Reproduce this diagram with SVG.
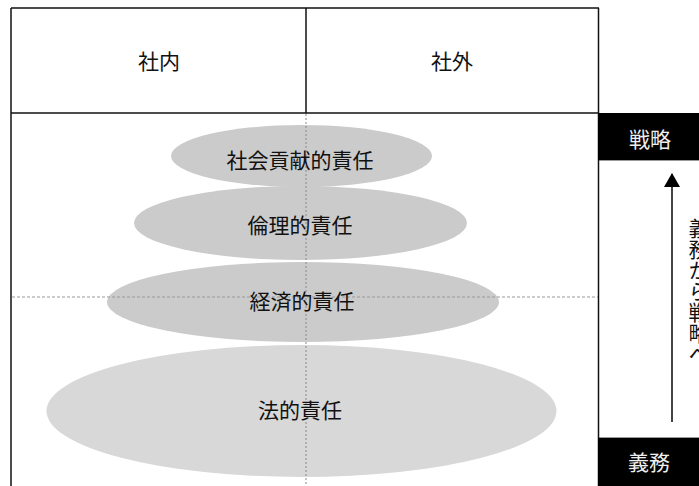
<svg xmlns="http://www.w3.org/2000/svg" width="699" height="486" viewBox="0 0 699 486">
<style>
.t{font-family:"Liberation Serif","Noto Sans CJK JP",serif;font-size:21px;fill:#111;text-anchor:middle;dominant-baseline:central}
.w{fill:#eeeeee}
.frame{stroke:#111;stroke-width:1.5;fill:none}
.dash{stroke:#888;stroke-width:1;stroke-dasharray:2,2;fill:none}
.e1{fill:#cbcbcb}
.e2{fill:#d8d8d8}
</style>
<defs>
<marker id="ah" markerWidth="14" markerHeight="16" refX="13" refY="8" orient="auto" markerUnits="userSpaceOnUse" viewBox="0 0 14 16">
<path d="M0,0 L14,8 L0,16 Z" fill="#000"/>
</marker>
</defs>
<rect width="699" height="486" fill="#fff"/>
<g id="header">
<line class="frame" x1="11" y1="8" x2="599" y2="8"/>
<line class="frame" x1="11" y1="8" x2="11" y2="486"/>
<line class="frame" x1="306" y1="8" x2="306" y2="113"/>
<line class="frame" x1="11" y1="113" x2="599" y2="113"/>
<text class="t" x="159" y="62">社内</text>
<text class="t" x="452" y="62">社外</text>
</g>
<g id="panel">
<rect x="598.5" y="160.5" width="110" height="277" fill="#fff" stroke="#999" stroke-width="1"/>
<text class="t" x="697" y="218" style="writing-mode:vertical-rl;text-anchor:start;dominant-baseline:central">義務から戦略へ</text>
</g>
<g id="ellipses">
<g id="social"><ellipse class="e1" cx="301.5" cy="156" rx="130.5" ry="31"/></g>
<g id="ethical"><ellipse class="e1" cx="300.5" cy="223" rx="166.5" ry="37"/></g>
<g id="economic"><ellipse class="e1" cx="303" cy="302" rx="196" ry="40"/></g>
<g id="legal"><ellipse class="e2" cx="301.5" cy="411" rx="255" ry="66"/></g>
</g>
<g id="connectors">
<line class="dash" x1="306" y1="114" x2="306" y2="486"/>
<line class="dash" x1="12" y1="297" x2="598" y2="297" style="stroke:#999;stroke-dasharray:3,2"/>
<line x1="672" y1="422" x2="672" y2="174" stroke="#444" stroke-width="2" marker-end="url(#ah)"/>
</g>
<g id="frame-right">
<line class="frame" x1="598.5" y1="8" x2="598.5" y2="486"/>
</g>
<g id="labels">
<text class="t" x="300" y="161">社会貢献的責任</text>
<text class="t" x="300" y="226">倫理的責任</text>
<text class="t" x="302" y="302">経済的責任</text>
<text class="t" x="300" y="411">法的責任</text>
</g>
<g id="strategy">
<rect x="598" y="113" width="101" height="47" fill="#000"/>
<text class="t w" x="650" y="140">戦略</text>
</g>
<g id="duty">
<rect x="598" y="438" width="101" height="48" fill="#000"/>
<text class="t w" x="649" y="463">義務</text>
</g>
</svg>
